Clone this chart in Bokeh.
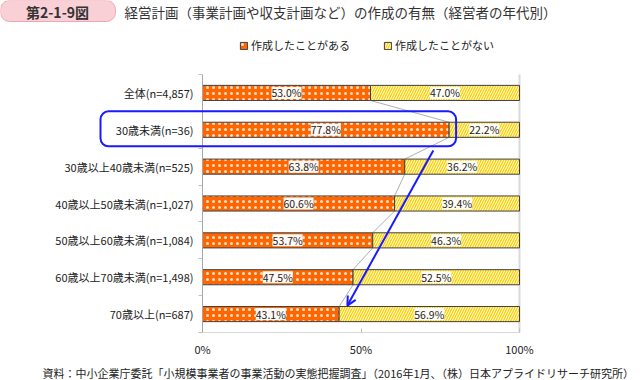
from bokeh.plotting import figure
from bokeh.models import (ColumnDataSource, Label, BoxAnnotation, Arrow, OpenHead,
                          Legend, LegendItem, FixedTicker, Range1d)
from bokeh.core.properties import value
from bokeh.embed import file_html
from bokeh.resources import INLINE

# ---- data ----
categories = ["全体(n=4,857)", "30歳未満(n=36)", "30歳以上40歳未満(n=525)",
              "40歳以上50歳未満(n=1,027)", "50歳以上60歳未満(n=1,084)",
              "60歳以上70歳未満(n=1,498)", "70歳以上(n=687)"]
made = [53.0, 77.8, 63.8, 60.6, 53.7, 47.5, 43.1]
not_made = [47.0, 22.2, 36.2, 39.4, 46.3, 52.5, 56.9]
series_names = ["作成したことがある", "作成したことがない"]
x_ticks = [0, 50, 100]
x_tick_labels = ["0%", "50%", "100%"]
title_tag = "第2-1-9図"
title_text = "経営計画（事業計画や収支計画など）の作成の有無（経営者の年代別）"
source_note = "資料：中小企業庁委託「小規模事業者の事業活動の実態把握調査」（2016年1月、（株）日本アプライドリサーチ研究所）"

# ---- layout (plot area of the bars in canvas pixels) ----
W, H = 642, 380
FL, FR, FT, FB = 202, 519, 74, 332
FONT = "Noto Sans CJK JP"
ORANGE = "#FF6600"
YELLOW = "#FFD000"
EDGE = "#404040"
BLUE = "#1A1AFF"
n = len(categories)
BAR_H = 0.41


def sx2d(sx):
    return (sx - FL) / (FR - FL) * 100.0


def sy2d(sy):
    return (n - 0.5) - (sy - FT) / (FB - FT) * n


ys = [n - 1 - i for i in range(n)]
src = ColumnDataSource(dict(
    y=ys,
    made=made,
    total=[m + k for m, k in zip(made, not_made)],
    xm=[m / 2 for m in made],
    xn=[m + k / 2 for m, k in zip(made, not_made)],
    lm=[f"{v:.1f}%" for v in made],
    ln=[f"{v:.1f}%" for v in not_made],
))

p = figure(width=W, height=H,
           x_range=Range1d(sx2d(0), sx2d(W)), y_range=Range1d(sy2d(H), sy2d(0)),
           output_backend="svg", toolbar_location=None,
           min_border_left=0, min_border_right=0, min_border_top=0, min_border_bottom=0)
p.outline_line_color = None
p.xgrid.visible = False
p.ygrid.visible = False
p.background_fill_color = "white"
p.border_fill_color = "white"

# right border line at 100%
p.segment(x0=[100], y0=[-0.5], x1=[100], y1=[n - 0.5], line_color="#d9d9d9", line_width=2)

# connector lines
p.segment(x0=made[:-1], y0=[y - BAR_H / 2 for y in ys[:-1]],
          x1=made[1:], y1=[y + BAR_H / 2 for y in ys[1:]],
          line_color="#b0b0b0", line_width=1)

r_made = p.hbar(y="y", left=0, right="made", height=BAR_H, source=src,
                fill_color=ORANGE, line_color=EDGE, line_width=1,
                hatch_pattern="dot", hatch_color="white", hatch_alpha=0.8,
                hatch_scale=6, hatch_weight=0.5)
r_not = p.hbar(y="y", left="made", right="total", height=BAR_H, source=src,
               fill_color=YELLOW, line_color=EDGE, line_width=1,
               hatch_pattern="right_diagonal_line", hatch_color="white",
               hatch_scale=5, hatch_weight=1.0)

# value labels with white boxes
for xcol, tcol in (("xm", "lm"), ("xn", "ln")):
    p.rect(x=xcol, y="y", width=30, width_units="screen", height=12, height_units="screen",
           source=src, fill_color="white", fill_alpha=0.95, line_color=None)
    p.text(x=xcol, y="y", text=tcol, source=src, text_align="center", text_baseline="middle",
           text_font=value(FONT), text_font_size="10.5px", text_color="#222222")

# axes, drawn at fixed locations inside the full-canvas frame
xa = p.xaxis[0]
xa.fixed_location = -0.5
xa.bounds = (0, 100)
xa.ticker = FixedTicker(ticks=x_ticks)
xa.major_label_overrides = {t: l for t, l in zip(x_ticks, x_tick_labels)}
xa.axis_line_color = "#d9d9d9"
xa.major_tick_line_color = "#bfbfbf"
xa.major_tick_in = 4
xa.major_tick_out = 0
xa.minor_tick_line_color = None
xa.major_label_standoff = 8
xa.major_label_text_font = FONT
xa.major_label_text_font_size = "11px"
xa.major_label_text_color = "#222222"

ya = p.yaxis[0]
ya.fixed_location = 0
ya.bounds = (-0.5, n - 0.5)
ya.ticker = FixedTicker(ticks=ys, minor_ticks=[k - 0.5 for k in range(n + 1)])
ya.major_label_overrides = {y: c for y, c in zip(ys, categories)}
ya.axis_line_color = "#a6a6a6"
ya.major_tick_line_color = None
ya.major_tick_in = 0
ya.major_tick_out = 0
ya.minor_tick_line_color = "#bfbfbf"
ya.minor_tick_in = 0
ya.minor_tick_out = 4
ya.major_label_standoff = 5
ya.major_label_text_font = FONT
ya.major_label_text_font_size = "11px"
ya.major_label_text_color = "#222222"

# legends
for r, name, off in ((r_made, series_names[0], 239), (r_not, series_names[1], 383)):
    leg = Legend(items=[LegendItem(label=name, renderers=[r])], location=(off, H - 41 - 12),
                 orientation="horizontal", padding=0, margin=0, border_line_color=None,
                 background_fill_alpha=0, glyph_width=9, glyph_height=9, label_standoff=3,
                 label_height=12, label_text_font=FONT, label_text_font_size="11px",
                 label_text_color="#222222")
    p.add_layout(leg, "center")

# highlight box around the "30歳未満" row and arrow
p.add_layout(BoxAnnotation(left=sx2d(100), right=made[1] + 2.2,
                           top=ys[1] + 0.5, bottom=ys[1] - 0.45,
                           fill_color=None, fill_alpha=0, line_color=BLUE, line_alpha=1,
                           line_width=2, border_radius=8))
p.add_layout(Arrow(end=OpenHead(size=9, line_color=BLUE, line_width=2),
                   x_start=made[1] - 5, y_start=ys[1] - 0.56,
                   x_end=made[-1] + 2.6, y_end=ys[-1] + 0.23,
                   line_color=BLUE, line_width=2))

# title tag box and title
p.add_layout(BoxAnnotation(left=sx2d(0), right=sx2d(115), top=sy2d(0), bottom=sy2d(21),
                           fill_color="#F9D0D6", fill_alpha=1, line_color="#EFA7B3",
                           line_alpha=1, line_width=1, border_radius=9))
p.add_layout(Label(x=sx2d(57), y=sy2d(11), text=title_tag, text_align="center",
                   text_baseline="middle", text_font=FONT, text_font_size="14px",
                   text_font_style="bold", text_color="#333333"))
p.add_layout(Label(x=sx2d(124), y=sy2d(11), text=title_text, text_align="left",
                   text_baseline="middle", text_font=FONT, text_font_size="13.5px",
                   text_color="#333333"))
p.add_layout(Label(x=sx2d(42), y=sy2d(372), text=source_note, text_align="left",
                   text_baseline="middle", text_font=FONT, text_font_size="11px",
                   text_color="#222222"))

html = file_html(p, INLINE, title="chart")
html = html.replace("<head>", "<head><style>html,body{margin:0;padding:0;}</style>", 1)
open("out.html", "w").write(html)
